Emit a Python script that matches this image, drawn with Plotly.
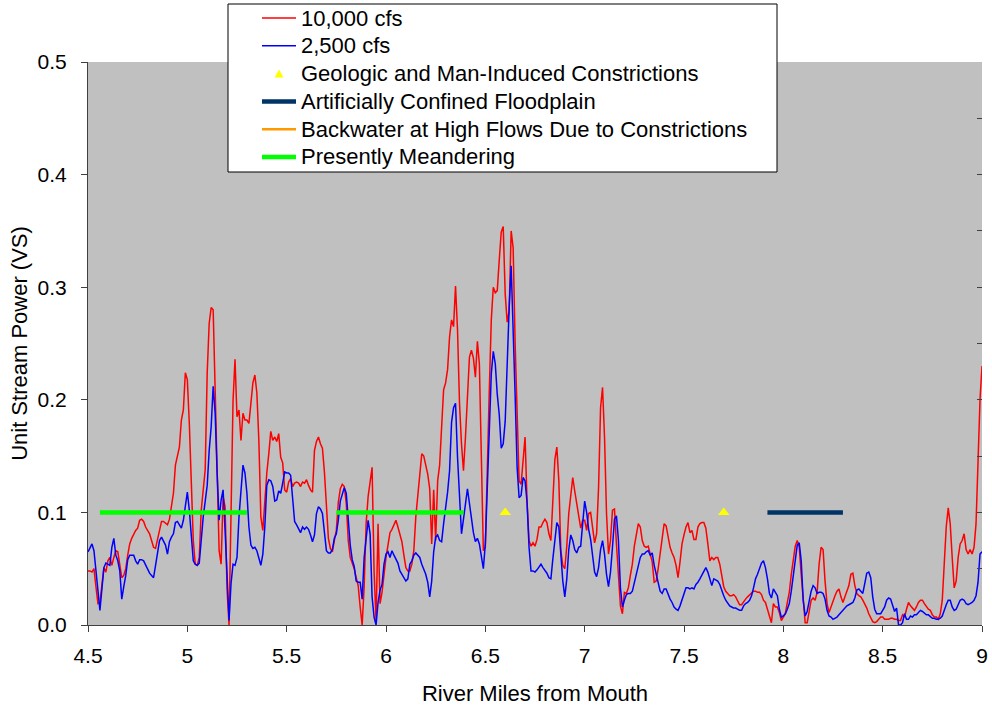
import numpy as np
import plotly.graph_objects as go

# River miles sampled every 0.01 mi from 4.5 to 9.0
mile_start = 4.5
mile_step = 0.01

# Unit stream power at 10,000 cfs
vs_10000 = [
    0.048, 0.048, 0.047, 0.050, 0.034, 0.019, 0.020, 0.037, 0.051, 0.047,
    0.057, 0.060, 0.053, 0.060, 0.066, 0.065, 0.054, 0.042, 0.044, 0.050,
    0.062, 0.072, 0.077, 0.081, 0.084, 0.086, 0.093, 0.094, 0.092, 0.087,
    0.084, 0.081, 0.075, 0.069, 0.068, 0.077, 0.084, 0.092, 0.092, 0.090,
    0.089, 0.094, 0.105, 0.117, 0.142, 0.149, 0.158, 0.182, 0.191, 0.224,
    0.218, 0.179, 0.129, 0.075, 0.054, 0.053, 0.060, 0.102, 0.120, 0.138,
    0.224, 0.268, 0.282, 0.280, 0.209, 0.126, 0.066, 0.054, 0.114, 0.105,
    0.031, 0.000, 0.105, 0.199, 0.236, 0.185, 0.191, 0.164, 0.188, 0.182,
    0.182, 0.179, 0.197, 0.215, 0.222, 0.206, 0.164, 0.096, 0.084, 0.111,
    0.135, 0.152, 0.172, 0.164, 0.167, 0.163, 0.170, 0.149, 0.144, 0.120,
    0.118, 0.127, 0.130, 0.123, 0.126, 0.127, 0.126, 0.123, 0.127, 0.126,
    0.129, 0.124, 0.120, 0.118, 0.155, 0.163, 0.167, 0.161, 0.157, 0.136,
    0.102, 0.077, 0.068, 0.065, 0.075, 0.084, 0.109, 0.121, 0.125, 0.123,
    0.108, 0.075, 0.060, 0.055, 0.050, 0.042, 0.035, 0.016, 0.000, 0.034,
    0.090, 0.114, 0.128, 0.140, 0.048, 0.003, 0.090, 0.019, 0.029, 0.048,
    0.060, 0.071, 0.082, 0.085, 0.089, 0.093, 0.087, 0.081, 0.074, 0.062,
    0.051, 0.048, 0.048, 0.054, 0.066, 0.096, 0.117, 0.134, 0.152, 0.150,
    0.143, 0.134, 0.121, 0.072, 0.120, 0.075, 0.128, 0.142, 0.176, 0.209,
    0.215, 0.227, 0.256, 0.271, 0.265, 0.301, 0.262, 0.197, 0.161, 0.137,
    0.167, 0.203, 0.238, 0.244, 0.237, 0.220, 0.252, 0.232, 0.152, 0.066,
    0.069, 0.149, 0.209, 0.271, 0.300, 0.295, 0.297, 0.324, 0.349, 0.354,
    0.294, 0.269, 0.279, 0.350, 0.335, 0.250, 0.178, 0.128, 0.125, 0.146,
    0.167, 0.110, 0.075, 0.070, 0.073, 0.070, 0.076, 0.087, 0.087, 0.091,
    0.094, 0.091, 0.081, 0.075, 0.113, 0.147, 0.158, 0.128, 0.066, 0.053,
    0.050, 0.070, 0.099, 0.118, 0.131, 0.119, 0.109, 0.096, 0.086, 0.093,
    0.093, 0.084, 0.099, 0.100, 0.084, 0.073, 0.081, 0.122, 0.193, 0.211,
    0.167, 0.099, 0.063, 0.075, 0.102, 0.103, 0.072, 0.045, 0.017, 0.010,
    0.029, 0.028, 0.033, 0.044, 0.054, 0.070, 0.082, 0.090, 0.087, 0.075,
    0.070, 0.069, 0.070, 0.063, 0.056, 0.038, 0.039, 0.050, 0.063, 0.079,
    0.090, 0.088, 0.078, 0.069, 0.064, 0.060, 0.053, 0.042, 0.056, 0.072,
    0.080, 0.087, 0.091, 0.082, 0.084, 0.076, 0.076, 0.087, 0.090, 0.091,
    0.091, 0.086, 0.072, 0.057, 0.060, 0.058, 0.060, 0.060, 0.054, 0.042,
    0.034, 0.030, 0.028, 0.026, 0.026, 0.027, 0.025, 0.021, 0.018, 0.018,
    0.021, 0.023, 0.025, 0.027, 0.028, 0.030, 0.030, 0.029, 0.029, 0.027,
    0.022, 0.020, 0.014, 0.008, 0.002, 0.019, 0.016, 0.016, 0.011, 0.004,
    0.007, 0.010, 0.020, 0.029, 0.045, 0.059, 0.070, 0.075, 0.069, 0.045,
    0.022, 0.002, 0.002, 0.014, 0.022, 0.024, 0.022, 0.029, 0.054, 0.069,
    0.067, 0.039, 0.019, 0.011, 0.016, 0.022, 0.026, 0.030, 0.032, 0.025,
    0.020, 0.025, 0.030, 0.035, 0.045, 0.046, 0.035, 0.028, 0.026, 0.025,
    0.022, 0.019, 0.015, 0.010, 0.007, 0.003, 0.002, 0.003, 0.005, 0.007,
    0.007, 0.005, 0.005, 0.005, 0.006, 0.006, 0.005, 0.005, 0.004, 0.004,
    0.009, 0.007, 0.014, 0.020, 0.017, 0.015, 0.013, 0.016, 0.020, 0.022,
    0.022, 0.019, 0.016, 0.014, 0.013, 0.009, 0.007, 0.007, 0.005, 0.010,
    0.022, 0.051, 0.087, 0.104, 0.090, 0.060, 0.033, 0.039, 0.060, 0.072,
    0.075, 0.081, 0.067, 0.063, 0.067, 0.063, 0.069, 0.090, 0.155, 0.200,
    0.230,
]

# Unit stream power at 2,500 cfs
vs_2500 = [
    0.065, 0.069, 0.072, 0.066, 0.047, 0.034, 0.013, 0.032, 0.051, 0.055,
    0.054, 0.053, 0.069, 0.077, 0.062, 0.057, 0.048, 0.023, 0.034, 0.044,
    0.058, 0.062, 0.062, 0.062, 0.057, 0.054, 0.058, 0.058, 0.057, 0.053,
    0.049, 0.046, 0.044, 0.042, 0.053, 0.065, 0.075, 0.078, 0.075, 0.071,
    0.063, 0.074, 0.078, 0.081, 0.091, 0.092, 0.089, 0.086, 0.093, 0.108,
    0.118, 0.102, 0.075, 0.057, 0.054, 0.053, 0.055, 0.078, 0.096, 0.110,
    0.124, 0.155, 0.176, 0.212, 0.188, 0.135, 0.093, 0.111, 0.120, 0.084,
    0.037, 0.004, 0.037, 0.054, 0.053, 0.060, 0.096, 0.123, 0.142, 0.135,
    0.117, 0.087, 0.071, 0.068, 0.069, 0.066, 0.060, 0.053, 0.063, 0.087,
    0.124, 0.129, 0.128, 0.123, 0.110, 0.111, 0.119, 0.117, 0.126, 0.136,
    0.135, 0.135, 0.133, 0.108, 0.092, 0.089, 0.086, 0.082, 0.087, 0.085,
    0.087, 0.085, 0.080, 0.074, 0.080, 0.099, 0.105, 0.103, 0.099, 0.080,
    0.066, 0.064, 0.064, 0.067, 0.077, 0.081, 0.093, 0.110, 0.117, 0.122,
    0.117, 0.091, 0.071, 0.058, 0.052, 0.039, 0.038, 0.038, 0.023, 0.060,
    0.075, 0.093, 0.081, 0.025, 0.007, 0.000, 0.020, 0.031, 0.036, 0.054,
    0.063, 0.065, 0.060, 0.066, 0.062, 0.059, 0.055, 0.048, 0.045, 0.042,
    0.039, 0.041, 0.054, 0.057, 0.062, 0.064, 0.062, 0.060, 0.054, 0.050,
    0.045, 0.038, 0.025, 0.039, 0.065, 0.078, 0.080, 0.075, 0.074, 0.090,
    0.102, 0.118, 0.137, 0.180, 0.193, 0.197, 0.149, 0.108, 0.081, 0.094,
    0.109, 0.121, 0.108, 0.093, 0.082, 0.074, 0.077, 0.072, 0.062, 0.050,
    0.072, 0.126, 0.182, 0.223, 0.243, 0.232, 0.205, 0.187, 0.157, 0.161,
    0.181, 0.235, 0.282, 0.319, 0.270, 0.204, 0.140, 0.113, 0.115, 0.131,
    0.128, 0.109, 0.069, 0.048, 0.048, 0.047, 0.049, 0.051, 0.054, 0.051,
    0.049, 0.046, 0.042, 0.041, 0.059, 0.078, 0.091, 0.087, 0.060, 0.039,
    0.025, 0.041, 0.067, 0.080, 0.075, 0.067, 0.064, 0.069, 0.070, 0.094,
    0.110, 0.100, 0.085, 0.076, 0.063, 0.047, 0.043, 0.051, 0.067, 0.075,
    0.063, 0.045, 0.034, 0.047, 0.069, 0.094, 0.097, 0.075, 0.033, 0.016,
    0.022, 0.027, 0.028, 0.028, 0.030, 0.038, 0.045, 0.051, 0.060, 0.063,
    0.063, 0.065, 0.066, 0.062, 0.064, 0.053, 0.045, 0.038, 0.030, 0.028,
    0.032, 0.032, 0.027, 0.023, 0.020, 0.016, 0.014, 0.013, 0.017, 0.023,
    0.028, 0.033, 0.033, 0.032, 0.033, 0.032, 0.036, 0.038, 0.041, 0.044,
    0.048, 0.051, 0.047, 0.040, 0.035, 0.041, 0.040, 0.039, 0.036, 0.030,
    0.026, 0.022, 0.019, 0.017, 0.016, 0.015, 0.015, 0.014, 0.013, 0.013,
    0.017, 0.019, 0.020, 0.022, 0.026, 0.033, 0.041, 0.045, 0.051, 0.055,
    0.057, 0.051, 0.041, 0.028, 0.024, 0.032, 0.029, 0.026, 0.014, 0.007,
    0.008, 0.010, 0.014, 0.019, 0.030, 0.044, 0.060, 0.071, 0.073, 0.057,
    0.022, 0.008, 0.012, 0.023, 0.030, 0.035, 0.033, 0.028, 0.029, 0.029,
    0.028, 0.023, 0.013, 0.008, 0.007, 0.005, 0.006, 0.007, 0.009, 0.011,
    0.013, 0.015, 0.017, 0.018, 0.019, 0.020, 0.024, 0.031, 0.032, 0.030,
    0.028, 0.037, 0.046, 0.047, 0.042, 0.025, 0.014, 0.010, 0.010, 0.010,
    0.013, 0.016, 0.022, 0.024, 0.023, 0.018, 0.012, 0.015, 0.000, 0.000,
    0.002, 0.010, 0.005, 0.005, 0.008, 0.007, 0.009, 0.009, 0.011, 0.013,
    0.012, 0.010, 0.009, 0.009, 0.007, 0.006, 0.006, 0.005, 0.005, 0.006,
    0.008, 0.014, 0.018, 0.022, 0.022, 0.016, 0.013, 0.014, 0.018, 0.022,
    0.023, 0.022, 0.019, 0.018, 0.019, 0.020, 0.022, 0.026, 0.038, 0.063,
    0.065,
]

miles = np.round(mile_start + mile_step * np.arange(len(vs_10000)), 2)

# Reach annotations (river mile, unit stream power level)
constriction_miles = [6.6, 7.7]
constriction_vs = [0.1, 0.1]

confined_reach = [7.92, 8.30]
confined_vs = [0.1, 0.1]

meander_reaches = [(4.56, 5.30), (5.75, 6.39)]
meander_vs = 0.1

# Series styling and legend labels
RED, BLUE, YELLOW = "#FF0000", "#0000FF", "#FFFF00"
NAVY, ORANGE, GREEN = "#003366", "#FF9900", "#00FF00"

legend_entries = [
    ("10,000 cfs", "line", RED, 1.5),
    ("2,500 cfs", "line", BLUE, 1.5),
    ("Geologic and Man-Induced Constrictions", "triangle", YELLOW, 0),
    ("Artificially Confined Floodplain", "line", NAVY, 4.5),
    ("Backwater at High Flows Due to Constrictions", "line", ORANGE, 2.5),
    ("Presently Meandering", "line", GREEN, 4.5),
]

FONT = "Liberation Sans, Arial, sans-serif"

# Figure frame in pixels
W, H = 992, 706
ML, MR, MT, MB = 88, 10, 62, 81
PW, PH = W - ML - MR, H - MT - MB


def paper(px, py):
    """Page pixel position -> paper coordinates of the plotting area."""
    return (px - ML) / PW, (H - MB - py) / PH


fig = go.Figure()

fig.add_trace(go.Scatter(
    x=miles, y=vs_10000, mode="lines", name="10,000 cfs",
    line=dict(color=RED, width=1.5),
))
fig.add_trace(go.Scatter(
    x=miles, y=vs_2500, mode="lines", name="2,500 cfs",
    line=dict(color=BLUE, width=1.5),
))
mx, my = [], []
for a, b in meander_reaches:
    mx += [a, b, None]
    my += [meander_vs, meander_vs, None]
fig.add_trace(go.Scatter(
    x=mx, y=my, mode="lines", name="Presently Meandering",
    line=dict(color=GREEN, width=4.5),
))
fig.add_trace(go.Scatter(
    x=confined_reach, y=confined_vs, mode="lines",
    name="Artificially Confined Floodplain",
    line=dict(color=NAVY, width=4.5),
))
fig.add_trace(go.Scatter(
    x=constriction_miles, y=constriction_vs, mode="markers",
    name="Geologic and Man-Induced Constrictions",
    marker=dict(symbol="triangle-up", color=YELLOW, size=10),
))

# right-hand tick marks every 0.05
fig.add_trace(go.Scatter(
    x=[None], y=[None], yaxis="y2", showlegend=False, hoverinfo="skip",
))

# Legend box drawn in page space
shapes = []
annotations = []
bx0, by0 = paper(228, 4)
bx1, by1 = paper(777, 172)
shapes.append(dict(type="rect", xref="paper", yref="paper",
                   x0=bx0, y0=by1, x1=bx1, y1=by0,
                   fillcolor="white", line=dict(color="black", width=1),
                   layer="above"))
row0, row_step = 18, 27.8
for i, (label, kind, color, width) in enumerate(legend_entries):
    cy = row0 + i * row_step
    if kind == "line":
        x0, y0 = paper(262, cy)
        x1, _ = paper(296, cy)
        shapes.append(dict(type="line", xref="paper", yref="paper",
                           x0=x0, y0=y0, x1=x1, y1=y0,
                           line=dict(color=color, width=width),
                           layer="above"))
    else:
        ax, ay = paper(274.5, cy + 4)
        bx, by = paper(283.5, cy + 4)
        tx, ty = paper(279, cy - 4)
        shapes.append(dict(type="path", xref="paper", yref="paper",
                           path=f"M {ax},{ay} L {bx},{by} L {tx},{ty} Z",
                           fillcolor=color, line=dict(color=color, width=0),
                           layer="above"))
    lx, ly = paper(299, cy)
    annotations.append(dict(xref="paper", yref="paper", x=lx, y=ly,
                            xanchor="left", yanchor="middle", showarrow=False,
                            text=label, font=dict(family=FONT, size=22,
                                                  color="black")))

fig.update_layout(
    width=W, height=H,
    margin=dict(l=ML, r=MR, t=MT, b=MB, autoexpand=False),
    paper_bgcolor="white",
    plot_bgcolor="#C0C0C0",
    font=dict(family=FONT, color="black", size=21),
    showlegend=False,
    shapes=shapes,
    annotations=annotations,
    xaxis=dict(
        range=[4.5, 9], showgrid=False, zeroline=False, automargin=False,
        tickvals=[4.5, 5, 5.5, 6, 6.5, 7, 7.5, 8, 8.5, 9],
        ticktext=["4.5", "5", "5.5", "6", "6.5", "7", "7.5", "8", "8.5", "9"],
        ticks="outside", ticklen=6, tickcolor="#404040", tickwidth=1,
        showline=True, linecolor="#404040", linewidth=1,
        tickfont=dict(size=21), ticklabelstandoff=6,
        title=dict(text="River Miles from Mouth", font=dict(size=22), standoff=20),
    ),
    yaxis=dict(
        range=[0, 0.5], showgrid=False, zeroline=False, automargin=False,
        dtick=0.1, tickformat=".1f",
        ticks="outside", ticklen=6, tickcolor="#404040", tickwidth=1,
        showline=True, linecolor="#404040", linewidth=1,
        tickfont=dict(size=21), ticklabelstandoff=10,
        title=dict(text="Unit Stream Power (VS)", font=dict(size=22), standoff=3),
    ),
    yaxis2=dict(
        range=[0, 0.5], overlaying="y", side="right", automargin=False,
        dtick=0.05, ticks="inside", ticklen=5, tickcolor="#404040",
        showticklabels=False, showgrid=False, zeroline=False, showline=False,
    ),
)

fig.write_html("out.html")
